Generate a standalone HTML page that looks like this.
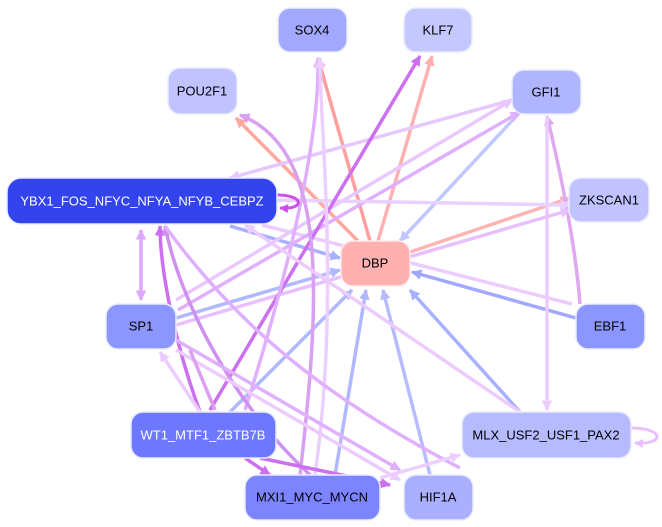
<!DOCTYPE html>
<html><head><style>body{margin:0;background:#fff}svg{display:block}text{font-family:"Liberation Sans",sans-serif;font-size:13px;text-anchor:middle;dominant-baseline:central}</style></head><body>
<svg width="662" height="527" viewBox="0 0 662 527">
<defs>
<marker id="a" viewBox="0 0 10 10" refX="9" refY="5" markerWidth="3" markerHeight="3" orient="auto-start-reverse"><path d="M0,0L10,5L0,10z" fill="context-stroke"/></marker>
</defs>
<g fill="none" stroke-width="3.5" marker-end="url(#a)">
<!-- DBP out (red) -->
<path d="M370,241 L318,58" stroke="#ffa0a0"/>
<path d="M378,241 L432,56" stroke="#ffb0b0"/>
<path d="M358,241 L236,118" stroke="#ffa8a0"/>
<path d="M410,252 L570,198" stroke="#ffb4b4"/>
<!-- to DBP blue -->
<path d="M230,226 L340,258" stroke="#a8b0ff"/>
<path d="M176,318 L340,270" stroke="#b0b8ff"/>
<path d="M576,318 L412,272" stroke="#a0a8ff"/>
<path d="M520,412 L410,290" stroke="#a8b0ff"/>
<path d="M430,475 L383,290" stroke="#b8bcff"/>
<path d="M335,475 L366,290" stroke="#b0b8ff"/>
<path d="M230,412 L352,290" stroke="#b0b8ff"/>
<path d="M522,110 L400,241" stroke="#c0c8ff"/>
<!-- purple edges -->
<path d="M580,304 C575,240 560,170 547,116" stroke="#e0a8f0"/>
<path d="M547,116 L547,410" stroke="#ecccff"/>
<path d="M572,304 L262,225" stroke="#ecccff" marker-end="none"/>
<path d="M512,100 L230,178" stroke="#e6c8ff"/>
<path d="M176,300 L512,100" stroke="#e8c8ff"/>
<path d="M178,310 L520,112" stroke="#e0b0ff"/>
<path d="M176,325 L570,210" stroke="#e8c0ff"/>
<path d="M275,200 L570,205" stroke="#e8d0ff"/>
<path d="M210,410 L420,56" stroke="#cc70f0"/>
<path d="M245,410 C280,300 320,150 318,58" stroke="#e0b0ff"/>
<path d="M300,475 C320,300 330,150 240,115" stroke="#d8a0f0"/>
<path d="M315,475 C340,300 320,130 320,58" stroke="#eccfff"/>
<path d="M520,412 L245,225" stroke="#ecccff"/>
<path d="M200,412 C170,330 160,260 160,226" stroke="#cc70f0"/>
<path d="M310,475 C230,400 180,300 165,226" stroke="#d090f0"/>
<path d="M460,468 C330,400 240,330 165,226" stroke="#e0b0ff" marker-end="none"/>
<path d="M141,230 L141,300" stroke="#dda8ff" marker-start="url(#a)"/>
<path d="M176,340 L400,470" stroke="#e0b0ff"/>
<path d="M176,350 L400,480" stroke="#ecccff"/>
<path d="M260,458 L390,485" stroke="#cc70f0"/>
<path d="M245,458 L270,475" stroke="#cc70f0"/>
<path d="M380,478 L460,455" stroke="#eccfff"/>
<path d="M200,412 L160,352" stroke="#ecccff"/>
<path d="M215,410 L190,350" stroke="#dda0f0" marker-end="none"/>
<path d="M277,195 C305,195 305,210 280,208" stroke="#cc50e8" stroke-width="3"/>
<path d="M631,428 C665,428 665,445 635,443" stroke="#e8c0ff" stroke-width="3"/>
</g>
<g stroke="#e8ecff" stroke-width="1.5">
<rect x="278" y="8" width="69" height="44" rx="12" fill="#a3a8ff"/>
<rect x="404" y="8" width="68" height="44" rx="12" fill="#c5c8ff"/>
<rect x="168" y="68" width="69" height="46" rx="12" fill="#c0c3ff"/>
<rect x="512" y="70" width="69" height="44" rx="12" fill="#b0b5ff"/>
<rect x="7" y="178" width="270" height="46" rx="14" fill="#3344ee"/>
<rect x="569" y="178" width="80" height="44" rx="12" fill="#c0c3ff"/>
<rect x="341" y="241" width="69" height="45" rx="12" fill="#ffb0b0" stroke="#ffe8e8"/>
<rect x="106" y="304" width="70" height="45" rx="12" fill="#8c96ff"/>
<rect x="576" y="304" width="69" height="45" rx="12" fill="#8c96ff"/>
<rect x="131" y="412" width="145" height="46" rx="12" fill="#6e78ff"/>
<rect x="462" y="412" width="169" height="46" rx="12" fill="#b6bbff"/>
<rect x="245" y="475" width="135" height="45" rx="12" fill="#7c84ff"/>
<rect x="404" y="475" width="69" height="45" rx="12" fill="#aab0ff"/>
</g>
<g fill="#000">
<text x="312" y="30">SOX4</text>
<text x="438" y="30">KLF7</text>
<text x="202" y="91">POU2F1</text>
<text x="546" y="92">GFI1</text>
<text x="142" y="201" fill="#fff">YBX1_FOS_NFYC_NFYA_NFYB_CEBPZ</text>
<text x="609" y="200">ZKSCAN1</text>
<text x="375" y="263">DBP</text>
<text x="141" y="326">SP1</text>
<text x="610" y="326">EBF1</text>
<text x="203" y="435" fill="#fff">WT1_MTF1_ZBTB7B</text>
<text x="546" y="435">MLX_USF2_USF1_PAX2</text>
<text x="312" y="497">MXI1_MYC_MYCN</text>
<text x="438" y="497">HIF1A</text>
</g>
</svg>
</body></html>
